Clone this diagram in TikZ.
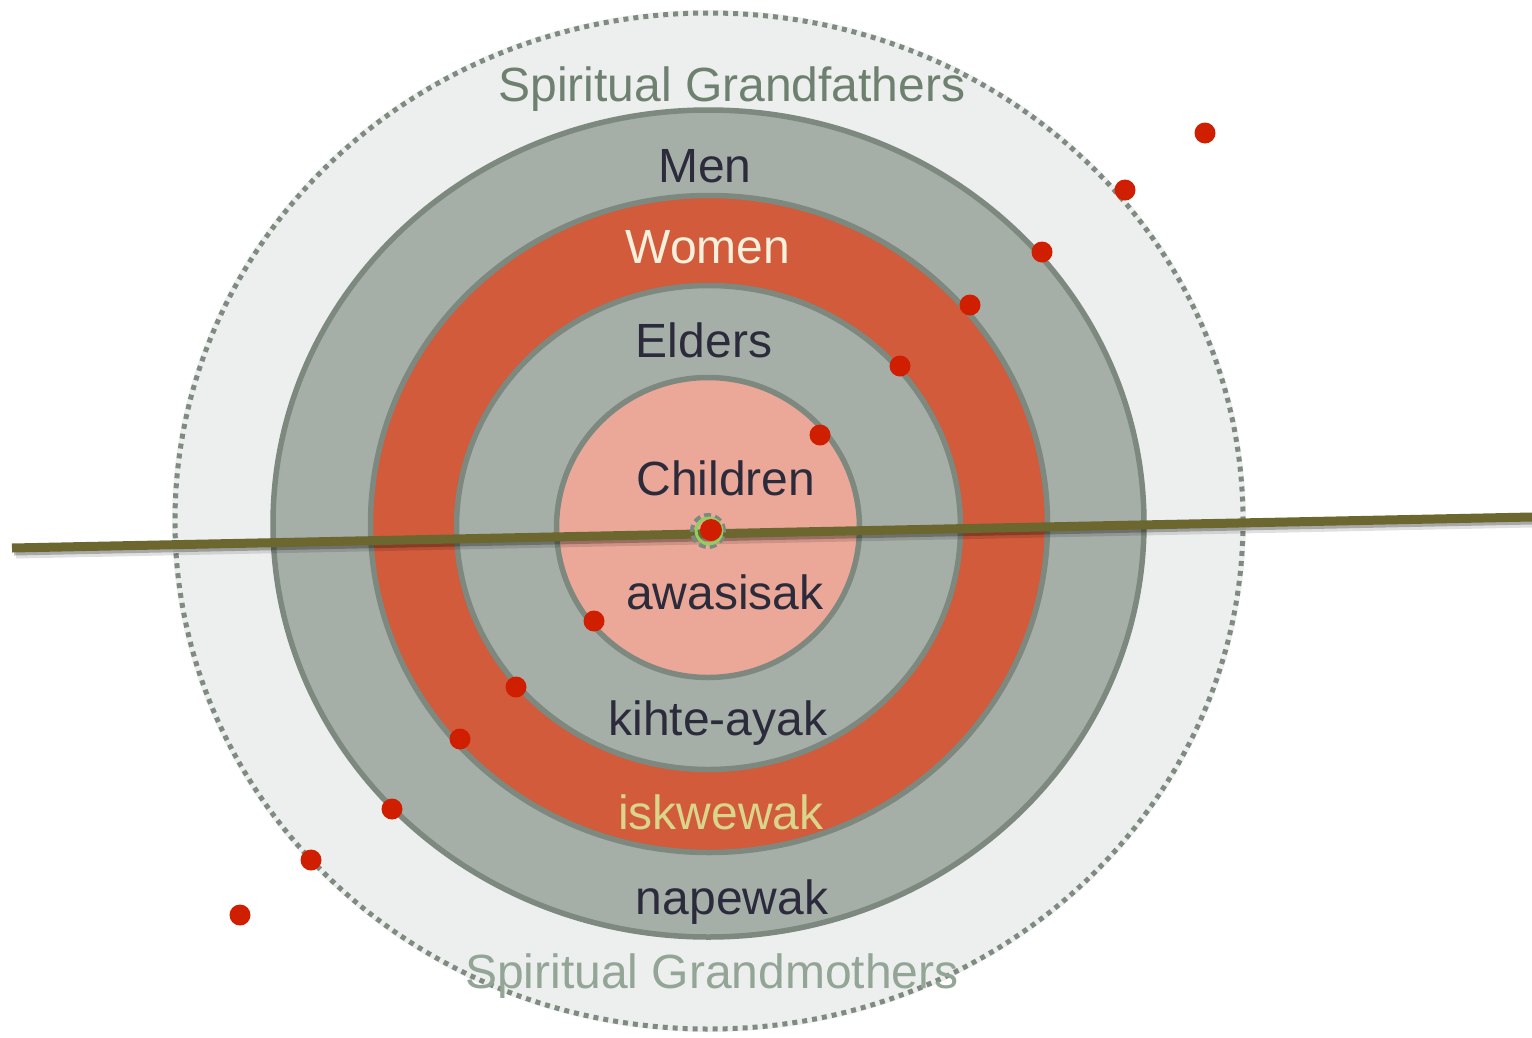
\documentclass[tikz,border=0pt]{standalone}
\usepackage{fontspec}
\setmainfont{Liberation Sans}
\begin{document}
\begin{tikzpicture}[x=1pt,y=-1pt,
  lbl/.style={anchor=base,inner sep=0pt,font=\fontsize{48}{56}\selectfont},
  dark/.style={lbl,text=txtdark},
  ring/.style={draw=ringedge,line width=5.5pt},
  reddot/.style={circle,fill=dotred,minimum size=21pt,inner sep=0pt},
]
\definecolor{outerfill}{HTML}{EDEFEE}
\definecolor{dotcol}{HTML}{7F8A80}
\definecolor{ringgray}{HTML}{A6AEA8}
\definecolor{ringedge}{HTML}{7D887F}
\definecolor{ringorange}{HTML}{D15B3B}
\definecolor{childfill}{HTML}{EBA898}
\definecolor{txtdark}{HTML}{2B2B3B}
\definecolor{gfcol}{HTML}{6E8070}
\definecolor{gmcol}{HTML}{93A596}
\definecolor{womencol}{HTML}{F5F0DC}
\definecolor{iskcol}{HTML}{D9D58A}
\definecolor{olive}{HTML}{6B672E}
\definecolor{dotred}{HTML}{CF1F00}
\definecolor{ringgreen}{HTML}{8FD060}
\useasboundingbox (0,0) rectangle (1532,1037);
% outer
\fill[outerfill] (709,521) ellipse [x radius=537, y radius=511];
\draw[draw=dotcol,line width=5pt,dash pattern=on 5pt off 5pt] (709,521) ellipse [x radius=534, y radius=508];
% rings
\filldraw[ring,fill=ringgray] (708.5,523.5) ellipse [x radius=435.5, y radius=413.5];
\filldraw[ring,fill=ringorange] (709,524) ellipse [x radius=338.5, y radius=328.5];
\filldraw[ring,fill=ringgray] (708.5,527.5) ellipse [x radius=252, y radius=242];
\filldraw[ring,fill=childfill] (708,527.5) ellipse [x radius=151.5, y radius=150];
% labels
\node[lbl,text=gfcol] (gf) at (732,101) {Spiritual Grandfathers};
\node[dark] (men) at (705,182) {Men};
\node[lbl,text=womencol] (women) at (708,263) {Women};
\node[dark] (elders) at (704,357) {Elders};
\node[dark] (children) at (726,495) {Children};
\node[dark] (awasisak) at (725,609) {awasisak};
\node[dark] (kihte) at (718,735) {kihte-ayak};
\node[lbl,text=iskcol] (isk) at (721,829) {iskwewak};
\node[dark] (napewak) at (732,914) {napewak};
\node[lbl,text=gmcol] (gm) at (712,988) {Spiritual Grandmothers};
% axis line
\coordinate (L) at (12,548);
\coordinate (R) at (1532,517);
\coordinate (Ls) at (14,552);
\coordinate (Rs) at (1532,521);
\coordinate (Ls2) at (16,555);
\coordinate (Rs2) at (1532,524);
\draw[black,line width=7pt,opacity=0.12] (Ls2) -- (Rs2);
\draw[black,line width=7pt,opacity=0.25] (Ls) -- (Rs);
\draw[olive,line width=9pt] (L) -- (R);
% center marker
\node[circle,draw=ringedge,line width=4pt,dash pattern=on 7pt off 4pt,minimum size=32pt,inner sep=0pt] (cm) at (708,531) {};
\node[circle,draw=ringgreen,line width=3pt,minimum size=26pt,inner sep=0pt] (cg) at (709,531) {};
\node[reddot,minimum size=22pt] (d0) at (711,530) {};
% red dots
\node[reddot] (d1) at (1205,133) {};
\node[reddot] (d2) at (1125,190) {};
\node[reddot] (d3) at (1042,252) {};
\node[reddot] (d4) at (970,305) {};
\node[reddot] (d5) at (900,366) {};
\node[reddot] (d6) at (820,435) {};
\node[reddot] (d7) at (594,621) {};
\node[reddot] (d8) at (516,687) {};
\node[reddot] (d9) at (460,739) {};
\node[reddot] (d10) at (392,809) {};
\node[reddot] (d11) at (311,860) {};
\node[reddot] (d12) at (240,915) {};
\end{tikzpicture}
\end{document}
